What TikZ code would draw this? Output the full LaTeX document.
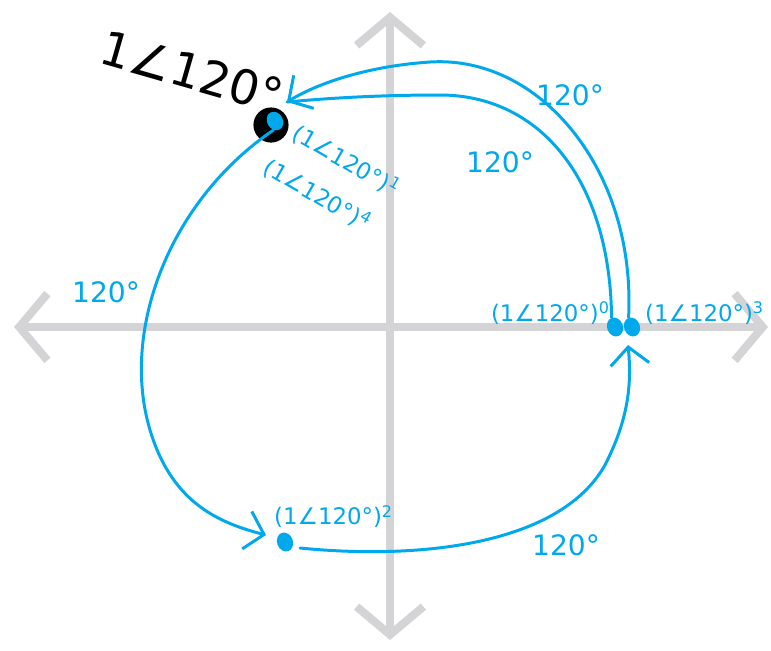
\documentclass[tikz,border=0pt]{standalone}
\usepackage{fontspec}
\setmainfont{DejaVu Sans}
\usetikzlibrary{arrows.meta,shapes.geometric}

\definecolor{penblue}{RGB}{0,168,236}
\definecolor{axisgray}{RGB}{212,212,214}

\begin{document}
\begin{tikzpicture}[
  x=0.02cm, y=-0.02cm,
  axis/.style={draw=axisgray, line width=4.6pt, line cap=round,
    {Straight Barb[length=16pt, width=38pt, line width=4.6pt]}-{Straight Barb[length=16pt, width=38pt, line width=4.6pt]}},
  pen/.style={draw=penblue, line width=1.7pt, line cap=round},
  penarrow/.style={pen, -{Straight Barb[length=10pt, width=22pt, line width=1.7pt]}},
  dot/.style={ellipse, fill=penblue, inner sep=0pt, minimum width=9pt, minimum height=11pt},
  lbl/.style={text=penblue, font=\fontsize{13}{15}\selectfont, inner sep=1pt},
  ang/.style={text=penblue, font=\fontsize{16}{18}\selectfont, inner sep=1pt}
]
\useasboundingbox (0,0) rectangle (771,650);

% axes
\coordinate (xl) at (14,327);
\coordinate (xr) at (768,327);
\coordinate (yt) at (390,12);
\coordinate (yb) at (390,640);
\draw[axis] (xl) -- (xr);
\draw[axis] (yb) -- (yt);

% powers on the circle
\node[circle, fill=black, minimum size=20pt, inner sep=0pt] (pone) at (271,125) {};
\node[dot, rotate=30] (p1) at (275,121) {};
\node[dot, rotate=20] (p0) at (615,327) {};
\node[dot, rotate=20] (p3) at (632,327) {};
\node[dot, rotate=20] (p2) at (285,542) {};

\coordinate (tipone) at (287,102);
\coordinate (tiptwo) at (266,535);
\coordinate (tipthree) at (628,345);

% the turns of 120 degrees
\draw[penarrow] (p3.north) .. controls (636,170) and (540,55) .. (430,62)
  .. controls (370,66) and (320,82) .. (tipone);
\draw[pen] (p0.north) .. controls (610,180) and (540,95) .. (440,95)
  .. controls (380,95) and (330,98) .. (tipone);
\draw[penarrow] (p1.south west) .. controls (170,200) and (120,330) .. (150,430)
  .. controls (171,500) and (215,522) .. (tiptwo);
\draw[penarrow] (300,548) .. controls (420,560) and (560,545) .. (605,465)
  .. controls (628,420) and (632,385) .. (tipthree);

% labels
\node[font=\fontsize{27}{29}\selectfont, rotate=-16, inner sep=0pt] (lone) at (192,72) {1∠120°};
\node[lbl, rotate=-30, anchor=west] (l1) at (293,130) {(1∠120°)\textsuperscript{1}};
\node[lbl, rotate=-30, anchor=west] (l4) at (264,164) {(1∠120°)\textsuperscript{4}};
\node[lbl, anchor=east] (l0) at (612,313) {(1∠120°)\textsuperscript{0}};
\node[lbl, anchor=west] (l3) at (643,313) {(1∠120°)\textsuperscript{3}};
\node[lbl, anchor=south west] (l2) at (272,530) {(1∠120°)\textsuperscript{2}};

\node[ang] (a1) at (570,95) {120°};
\node[ang] (a2) at (500,162) {120°};
\node[ang] (a3) at (106,292) {120°};
\node[ang] (a4) at (566,545) {120°};
\end{tikzpicture}
\end{document}
